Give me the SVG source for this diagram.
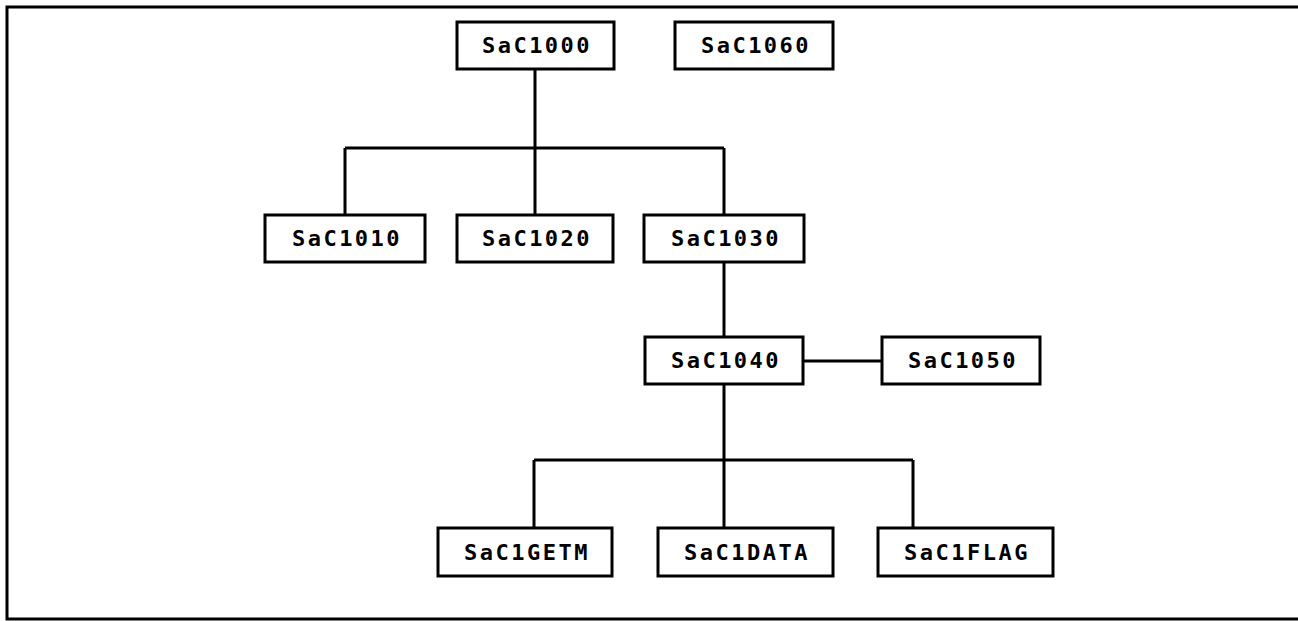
<svg xmlns="http://www.w3.org/2000/svg" width="1298" height="621" viewBox="0 0 1298 621">
  <style>
    .box { fill: #fff; stroke: #000; stroke-width: 3; }
    .lbl { font-family: "DejaVu Sans Mono", "Liberation Mono", monospace; font-weight: bold; font-size: 22px; letter-spacing: 2.5px; text-anchor: middle; fill: #000; }
    .wire { fill: none; stroke: #000; stroke-width: 3; }
  </style>
  <rect width="1298" height="621" fill="#fff"/>
  <!-- outer frame (right edge runs past the page) -->
  <path d="M1298,7 H7 V619 H1298" fill="none" stroke="#000" stroke-width="3"/>

  <g id="connectors">
    <path class="wire" d="M535,69 V148 M345,148 H724 M345,148 V215 M535,148 V215 M724,148 V215"/>
    <path class="wire" d="M724,262 V337"/>
    <path class="wire" d="M803,361 H882"/>
    <path class="wire" d="M724,384 V460 M534,460 H913 M534,460 V528 M724,460 V528 M913,460 V528"/>
  </g>

  <g id="sac1000"><rect class="box" x="457" y="22" width="157" height="47"/><text class="lbl" x="537" y="53">SaC1000</text></g>
  <g id="sac1060"><rect class="box" x="675" y="22" width="158" height="47"/><text class="lbl" x="756" y="53">SaC1060</text></g>
  <g id="sac1010"><rect class="box" x="265" y="215" width="160" height="47"/><text class="lbl" x="347" y="246">SaC1010</text></g>
  <g id="sac1020"><rect class="box" x="457" y="215" width="156" height="47"/><text class="lbl" x="537" y="246">SaC1020</text></g>
  <g id="sac1030"><rect class="box" x="644" y="215" width="160" height="47"/><text class="lbl" x="726" y="246">SaC1030</text></g>
  <g id="sac1040"><rect class="box" x="645" y="337" width="158" height="47"/><text class="lbl" x="726" y="368">SaC1040</text></g>
  <g id="sac1050"><rect class="box" x="882" y="337" width="158" height="47"/><text class="lbl" x="963" y="368">SaC1050</text></g>
  <g id="sac1getm"><rect class="box" x="438" y="528" width="174" height="48"/><text class="lbl" x="527" y="560">SaC1GETM</text></g>
  <g id="sac1data"><rect class="box" x="658" y="528" width="175" height="48"/><text class="lbl" x="747" y="560">SaC1DATA</text></g>
  <g id="sac1flag"><rect class="box" x="878" y="528" width="175" height="48"/><text class="lbl" x="967" y="560">SaC1FLAG</text></g>
</svg>
